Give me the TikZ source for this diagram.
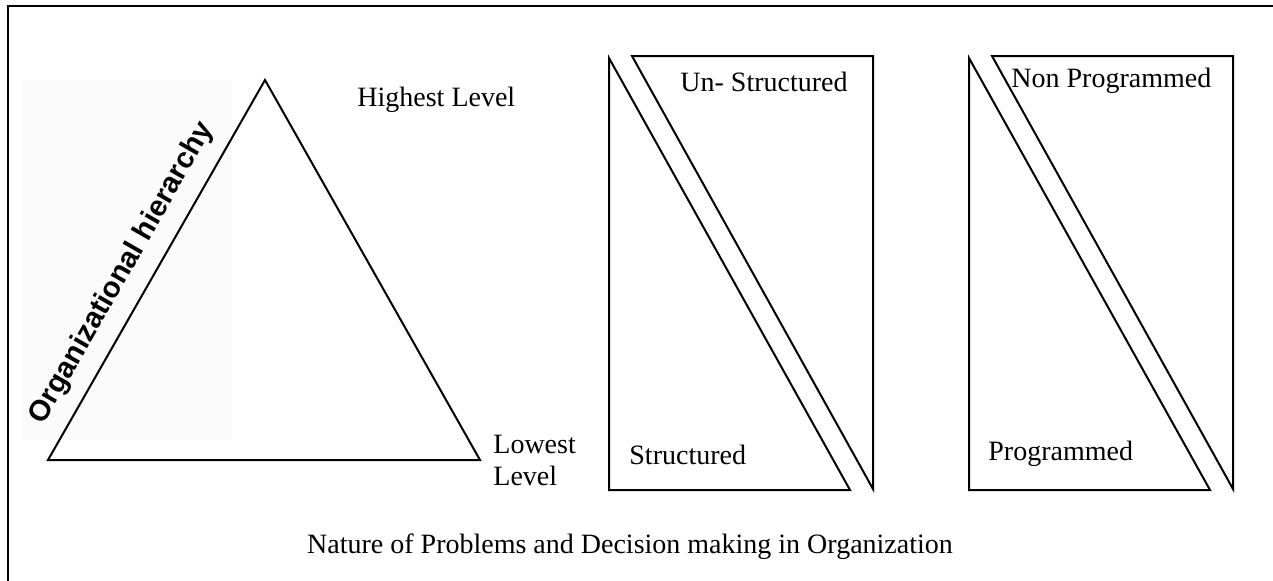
\documentclass[tikz,border=0pt]{standalone}
\usepackage{fontspec}
\setmainfont{Liberation Serif}
\newfontfamily\arialfont{Liberation Sans}
\begin{document}
\begin{tikzpicture}[x=0.5pt,y=-0.5pt,
  shape line/.style={line width=1pt, line join=miter},
  lbl/.style={font=\fontsize{14}{16}\selectfont, inner sep=0pt, anchor=base west},
  frame line/.style={line width=1.4pt}]
\useasboundingbox (0,0) rectangle (1273,580);
\clip (0,0) rectangle (1273,580);
% outer frame
\draw[frame line] (8,6) rectangle (1290,600);
% faint background of vertical label
\fill[black!1.5] (22,80) rectangle (232,440);
% hierarchy triangle
\draw[shape line] (265,80) -- (480,460) -- (48,460) -- cycle;
\node[font=\arialfont\bfseries\fontsize{14.6}{17}\selectfont, rotate=60.2, inner sep=0pt]
  (hier) at (122,273) {Organizational hierarchy};
\node[lbl] (high) at (357,106) {Highest Level};
\node[lbl] (low1) at (493,453) {Lowest};
\node[lbl] (low2) at (493,485) {Level};
% first split rectangle
\draw[shape line] (609,58) -- (850,490) -- (609,490) -- cycle;
\draw[shape line] (632,56) -- (873,56) -- (873,489) -- cycle;
\node[lbl] (unstr) at (680,91) {Un- Structured};
\node[lbl] (str) at (629,464) {Structured};
% second split rectangle
\draw[shape line] (969,58) -- (1210,490) -- (969,490) -- cycle;
\draw[shape line] (992,56) -- (1233,56) -- (1233,489) -- cycle;
\node[lbl] (nonprog) at (1011,87) {Non Programmed};
\node[lbl] (prog) at (988,460) {Programmed};
% caption
\node[lbl, anchor=base] (cap) at (630,553) {Nature of Problems and Decision making in Organization};
\end{tikzpicture}
\end{document}
